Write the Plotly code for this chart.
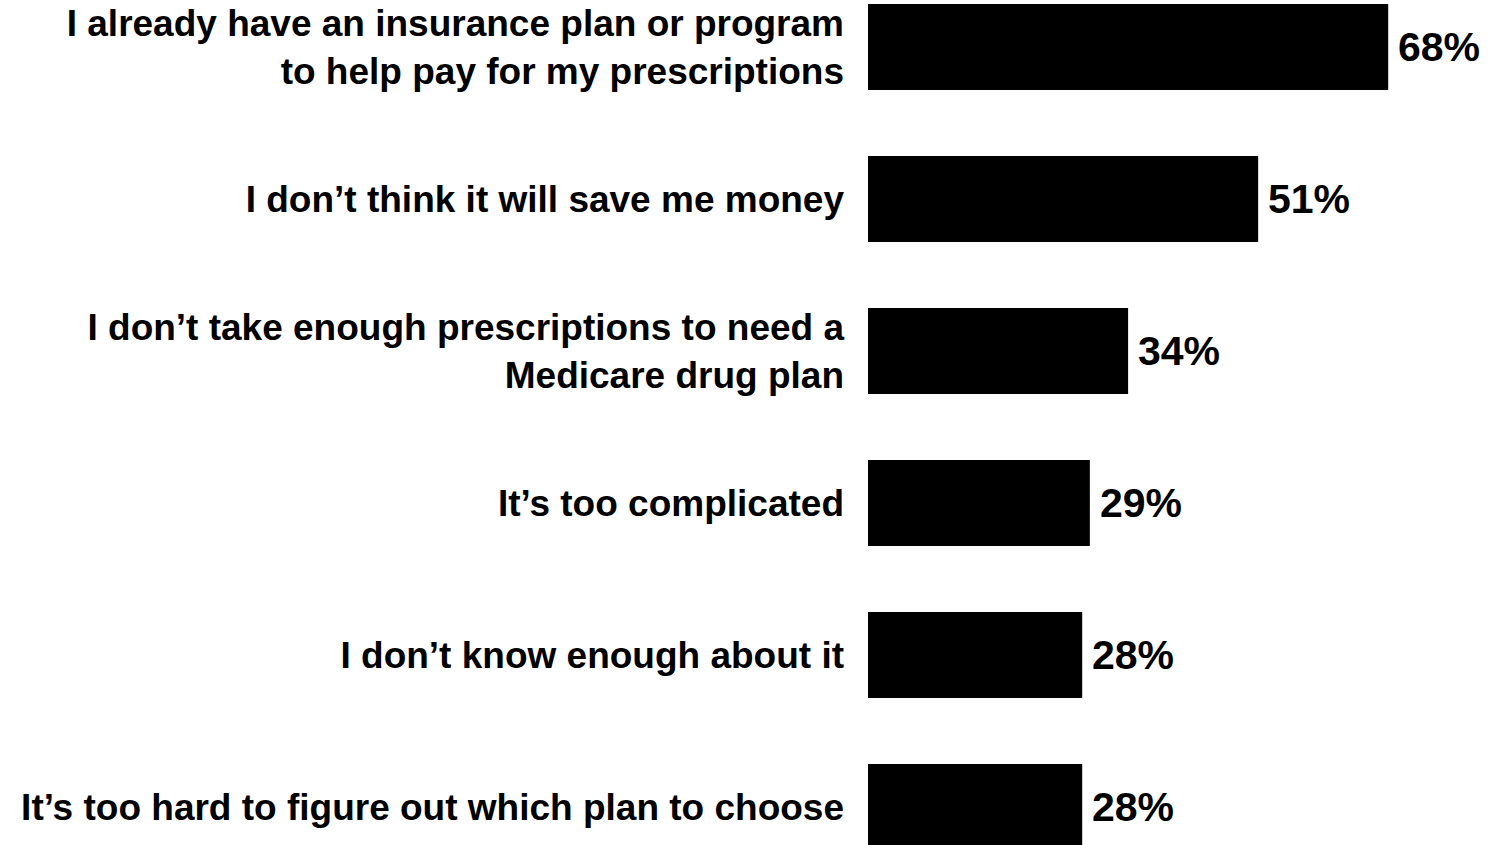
import plotly.graph_objects as go

categories = [
    "I already have an insurance plan or program<br>to help pay for my prescriptions",
    "I don’t think it will save me money",
    "I don’t take enough prescriptions to need a<br>Medicare drug plan",
    "It’s too complicated",
    "I don’t know enough about it",
    "It’s too hard to figure out which plan to choose",
]
values = [68, 51, 34, 29, 28, 28]
value_labels = ["68%", "51%", "34%", "29%", "28%", "28%"]

FONT = "Liberation Sans, Arial, sans-serif"

fig = go.Figure(
    go.Bar(
        x=values,
        y=categories,
        orientation="h",
        marker=dict(color="#000000", line=dict(width=0)),
        width=0.566,
        cliponaxis=False,
        hoverinfo="skip",
    )
)

for v, c, lab in zip(values, categories, value_labels):
    fig.add_annotation(
        x=v,
        y=c,
        xref="x",
        yref="y",
        text=lab,
        showarrow=False,
        xanchor="left",
        yanchor="middle",
        xshift=8,
        font=dict(family=FONT, size=41, color="#000000", weight="bold"),
    )

fig.update_layout(
    width=1488,
    height=845,
    margin=dict(l=868, r=8, t=0, b=0),
    paper_bgcolor="white",
    plot_bgcolor="white",
    showlegend=False,
    hovermode=False,
    xaxis=dict(
        range=[0, 80],
        visible=False,
        showgrid=False,
        zeroline=False,
    ),
    yaxis=dict(
        type="category",
        range=[5.25, -0.309],
        showgrid=False,
        zeroline=False,
        showline=False,
        ticks="",
        ticklabelstandoff=23,
        tickfont=dict(family=FONT, size=37, color="#000000", weight="bold"),
    ),
)

fig.write_html(
    "out.html",
    config={"displayModeBar": False, "staticPlot": True},
    post_script="document.body.style.margin='0';document.body.style.overflow='hidden';",
)
